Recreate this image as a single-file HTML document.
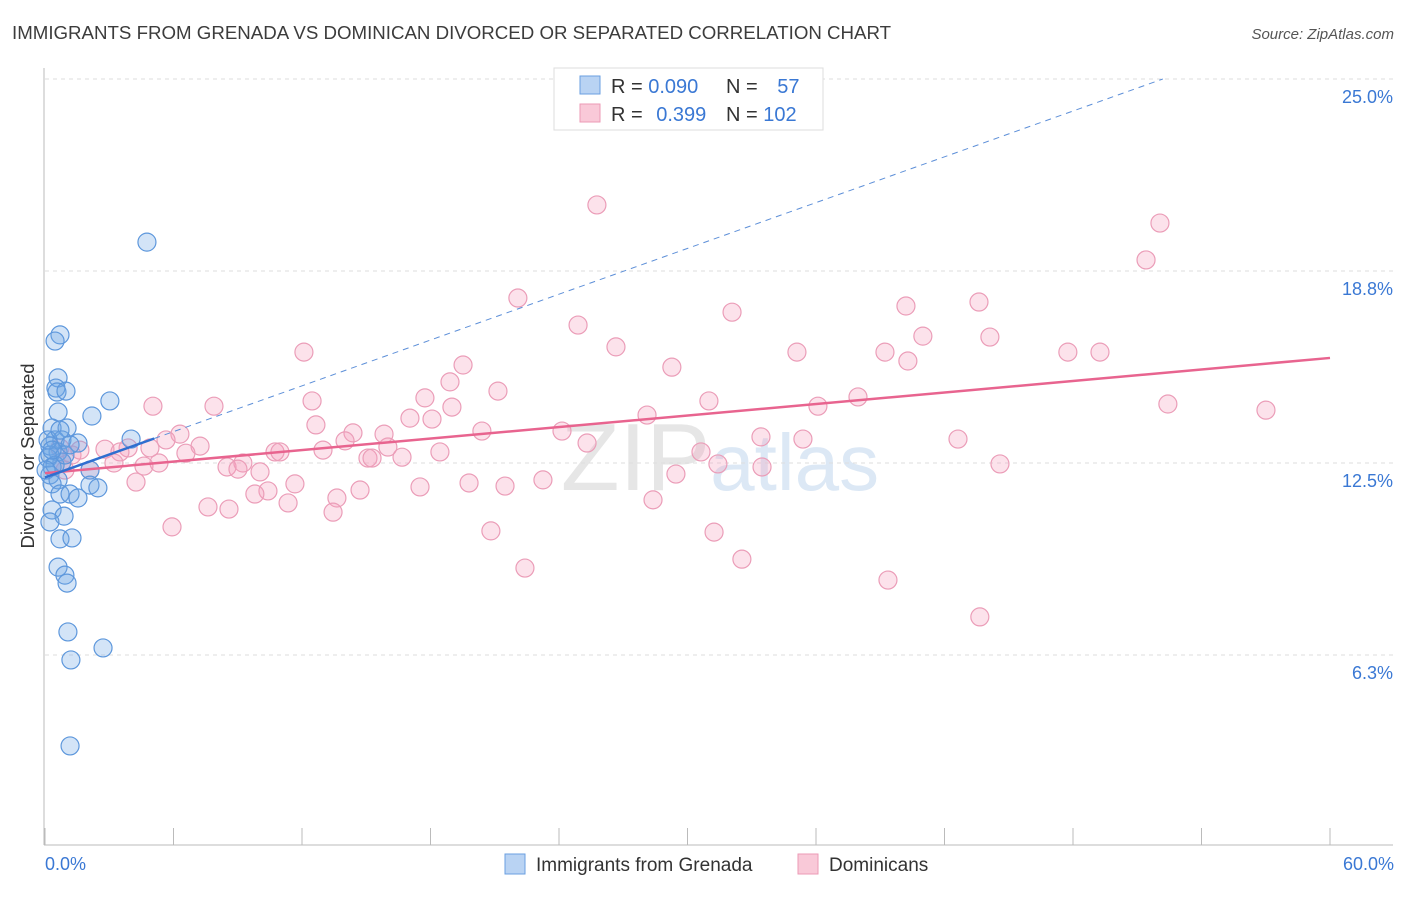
<!DOCTYPE html>
<html><head><meta charset="utf-8">
<style>
body{margin:0;background:#fff;font-family:"Liberation Sans",sans-serif;}
svg text{font-family:"Liberation Sans",sans-serif;}
</style></head>
<body>
<svg id="chart" width="1406" height="892" xmlns="http://www.w3.org/2000/svg">
<text x="12" y="39" font-size="18.7" fill="#3c3c3c">IMMIGRANTS FROM GRENADA VS DOMINICAN DIVORCED OR SEPARATED CORRELATION CHART</text>
<text x="1394" y="39" font-size="15" fill="#555" text-anchor="end" font-style="italic">Source: ZipAtlas.com</text>
<text x="720" y="490" font-size="96" text-anchor="middle" fill="#e8e8e8" font-family="Liberation Serif"><tspan fill="#e6e6e6">ZIP</tspan><tspan fill="#dce8f5" font-family="Liberation Sans" font-size="80">atlas</tspan></text>
<g id="grid"></g>
<g id="axes"></g>
<g id="marks"></g>
<text transform="translate(34,456) rotate(-90)" font-size="18.5" fill="#333" text-anchor="middle">Divorced or Separated</text>
<g>
<rect x="554" y="68" width="269" height="62" fill="#fff" stroke="#ddd"/>
<rect x="580" y="76" width="20" height="18" fill="#b9d3f3" stroke="#6a9fe0"/>
<rect x="580" y="104" width="20" height="18" fill="#f9c9d8" stroke="#ec9ab6"/>
<text x="611" y="93" font-size="20" fill="#333">R = <tspan fill="#3a78d4">0.090</tspan></text>
<text x="726" y="93" font-size="20" fill="#333">N = <tspan fill="#3a78d4" dx="14">57</tspan></text>
<text x="611" y="121" font-size="20" fill="#333">R = <tspan fill="#3a78d4" dx="8">0.399</tspan></text>
<text x="726" y="121" font-size="20" fill="#333">N = <tspan fill="#3a78d4">102</tspan></text>
</g>
<g>
<rect x="505" y="854" width="20" height="20" fill="#b9d3f3" stroke="#6a9fe0"/>
<text x="536" y="871" font-size="19" fill="#333">Immigrants from Grenada</text>
<rect x="798" y="854" width="20" height="20" fill="#f9c9d8" stroke="#ec9ab6"/>
<text x="829" y="871" font-size="19" fill="#333">Dominicans</text>
</g>
</svg>
<script>
const yTicks=[25,18.75,12.5,6.25];
const yTickLabels=["25.0%","18.8%","12.5%","6.3%"];
const xTickLabels=["0.0%","60.0%"];
const blueX=[4.76,0.70,0.47,0.61,0.51,0.56,0.98,3.03,0.61,2.19,0.33,1.03,0.47,0.79,1.54,4.02,0.23,0.61,0.14,0.79,0.33,2.10,0.23,0.61,2.10,2.47,0.33,0.70,1.17,1.54,0.33,0.89,0.23,0.70,1.26,0.61,0.93,1.03,1.07,1.21,2.71,1.17,0.23,0.47,0.05,0.93,0.14,0.70,1.17,0.33];
const blueY=[19.69,16.67,16.47,15.27,14.94,14.81,14.84,14.52,14.16,14.03,13.64,13.64,13.25,13.25,13.15,13.28,13.05,12.86,12.66,12.53,12.37,12.27,12.11,11.95,11.78,11.69,11.82,11.49,11.49,11.36,10.97,10.77,10.58,10.03,10.06,9.11,8.85,8.59,7.00,6.09,6.48,3.29,12.76,12.43,12.27,12.76,13.25,13.57,13.09,12.92];
const pinkX=[25.77,52.06,51.41,22.08,24.89,32.08,40.20,43.61,26.66,40.99,44.12,12.09,35.11,39.22,47.76,49.26,19.52,29.27,40.29,18.91,21.15,37.96,52.43,57.01,5.04,7.89,12.47,17.74,19.00,31.00,36.09,17.04,18.07,28.11,12.65,20.40,24.14,6.30,14.38,15.83,5.65,7.24,14.01,16.01,25.31,33.43,35.39,42.63,3.88,2.80,3.50,4.90,6.58,10.74,10.97,12.98,18.44,15.08,15.27,16.67,30.63,8.50,9.24,10.04,9.01,3.22,4.62,5.32,31.42,33.48,44.59,4.25,10.41,11.67,23.25,19.80,21.48,17.51,14.71,13.63,9.80,11.35,7.61,8.59,13.45,28.39,29.46,5.93,20.82,31.24,22.41,32.54,39.36,43.65,0.70,0.79,1.26,2.10,1.63,0.93];
const pinkY=[20.90,20.31,19.11,17.87,16.99,17.41,17.61,17.74,16.28,16.63,16.60,16.11,16.11,16.11,16.11,16.11,15.69,15.62,15.82,15.14,14.84,14.65,14.42,14.22,14.35,14.35,14.52,14.62,14.32,14.52,14.35,13.96,13.93,14.06,13.74,13.54,13.54,13.44,13.48,13.44,13.25,13.05,13.22,13.02,13.15,13.35,13.28,13.28,12.99,12.95,12.86,12.99,12.82,12.86,12.86,12.92,12.86,12.66,12.66,12.69,12.86,12.37,12.50,12.21,12.30,12.50,12.40,12.50,12.47,12.37,12.47,11.88,11.59,11.82,11.95,11.85,11.75,11.72,11.62,11.36,11.49,11.20,11.07,11.00,10.90,11.30,12.14,10.42,10.29,10.25,9.08,9.37,8.69,7.49,12.99,12.53,12.76,12.27,12.92,12.27];
const pinkTrend=[12.17,15.92]; // y at x=0 and x=60
const blueTrend=[12.03,0.2485,5.1]; // intercept, slope, solid end x

const X0=45,X1=1330,Y0=847,Ypx=768/25;
const sx=v=>X0+(X1-X0)*v/60;
const sy=v=>Y0-v*Ypx;
const NS="http://www.w3.org/2000/svg";
function mk(tag,attrs,parent){const e=document.createElementNS(NS,tag);for(const k in attrs)e.setAttribute(k,attrs[k]);parent.appendChild(e);return e;}
const grid=document.getElementById('grid'),axes=document.getElementById('axes'),marks=document.getElementById('marks');
yTicks.forEach((t,i)=>{
 const l=mk('line',{x1:45,x2:1393,y1:sy(t),y2:sy(t),stroke:'#dedede','stroke-dasharray':'4,4'},grid);
 
 
 const tx=mk('text',{x:1393,y:sy(t)+24,'font-size':18,fill:'#3a78d4','text-anchor':'end'},grid);
 tx.textContent=yTickLabels[i];
 
 
});
const ya=mk('line',{x1:44,x2:44,y1:68,y2:845,stroke:'#bbb'},axes);


const xa=mk('line',{x1:44,x2:1393,y1:845,y2:845,stroke:'#bbb'},axes);


for(let v=0;v<=60;v+=6){
 const tk=mk('line',{x1:sx(v),x2:sx(v),y1:828,y2:845,stroke:'#bbb'},axes);
 
 
}
[[0,xTickLabels[0],'start',45],[60,xTickLabels[1],'end',1394]].forEach(a=>{
 const t=mk('text',{x:a[3],y:870,'font-size':18,fill:'#3a78d4','text-anchor':a[2]},axes);
 t.textContent=a[1];
 
 
});
pinkX.forEach((x,i)=>{
 const c=mk('circle',{cx:sx(x),cy:sy(pinkY[i]),r:9,fill:'rgba(244,160,188,0.3)',stroke:'#eb9db8','stroke-width':1.2},marks);
 
 
});
blueX.forEach((x,i)=>{
 const c=mk('circle',{cx:sx(x),cy:sy(blueY[i]),r:9,fill:'rgba(110,165,230,0.3)',stroke:'#5d97dc','stroke-width':1.2},marks);
 
 
});
const pl=mk('line',{x1:sx(0),y1:sy(pinkTrend[0]),x2:sx(60),y2:sy(pinkTrend[1]),stroke:'#e8648f','stroke-width':2.5},marks);


const xEnd=(25-blueTrend[0])/blueTrend[1];
const bd=mk('line',{x1:sx(blueTrend[2]),y1:sy(blueTrend[0]+blueTrend[1]*blueTrend[2]),x2:sx(xEnd),y2:sy(25),stroke:'#5d8fd8','stroke-width':1,'stroke-dasharray':'6,5'},marks);


const bl=mk('line',{x1:sx(0),y1:sy(blueTrend[0]),x2:sx(blueTrend[2]),y2:sy(blueTrend[0]+blueTrend[1]*blueTrend[2]),stroke:'#2f6fd0','stroke-width':2.5},marks);


</script>
</body></html>
